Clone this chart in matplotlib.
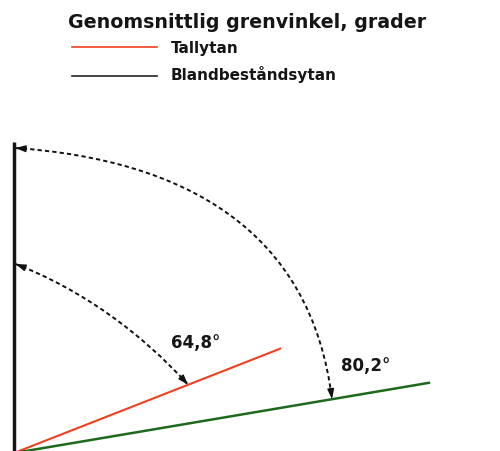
import numpy as np
import matplotlib
matplotlib.use("Agg")
import matplotlib.pyplot as plt
from matplotlib.path import Path
from matplotlib.patches import PathPatch

# Data
title = "Genomsnittlig grenvinkel, grader"
series = ["Tallytan", "Blandbeståndsytan"]
angle_values = [64.8, 80.2]            # labelled branch angles (degrees from vertical)
drawn_dirs = [21.4, 9.6]               # direction of drawn lines from horizontal (as in picture)
line_lengths = [287, 422]
line_colors = ["#f0401e", "#1d6a1d"]
legend_colors = ["#f0401e", "#222222"]
stem_height = 311

# angle arcs: radius on stem, radius on branch line, start/end tangent dirs, handle lengths
arc_r_stem = [189, 305]
arc_r_line = [187, 322.5]
arc_dir_start = [-21, -4]
arc_dir_end = [-48, -83]
arc_handle = [70, 170]

plt.rcParams['font.family'] = ['DejaVu Sans']

fig = plt.figure(figsize=(5.0, 4.52), dpi=100)
ax = fig.add_axes([0, 0, 1, 1])
ax.set_xlim(-14, 486)
ax.set_ylim(2, 454)
ax.axis('off')

# vertical stem
ax.plot([0, 0], [0, stem_height], color="#161616", lw=2.5, solid_capstyle='butt')

# branch lines
for d, L, c, lw in zip(drawn_dirs, line_lengths, line_colors, [1.5, 1.8]):
    t = np.deg2rad(d)
    ax.plot([0, L*np.cos(t)], [0, L*np.sin(t)], color=c, lw=lw, solid_capstyle='butt')

# arcs with arrowheads at both ends
tip_gap = 1.5
for d, rs, rl, ds, de, h in zip(drawn_dirs, arc_r_stem, arc_r_line, arc_dir_start, arc_dir_end, arc_handle):
    p0 = np.array([tip_gap, rs])
    t = np.deg2rad(d)
    p3 = np.array([rl*np.cos(t), rl*np.sin(t)])
    u0 = np.array([np.cos(np.deg2rad(ds)), np.sin(np.deg2rad(ds))])
    u3 = np.array([np.cos(np.deg2rad(de)), np.sin(np.deg2rad(de))])
    p1 = p0 + h*u0
    p2 = p3 - h*u3
    path = Path([p0, p1, p2, p3], [Path.MOVETO, Path.CURVE4, Path.CURVE4, Path.CURVE4])
    ax.add_patch(PathPatch(path, facecolor='none', edgecolor='#111111', lw=1.4,
                           linestyle=(0, (2.2, 1.6))))
    hs = 'head_length=0.6,head_width=0.2'
    ax.annotate('', xy=p3, xytext=p3 - 8*u3,
                arrowprops=dict(arrowstyle='-|>,' + hs, color='#111111', lw=1.0, shrinkA=0, shrinkB=0))
    ax.annotate('', xy=p0, xytext=p0 + 8*u0,
                arrowprops=dict(arrowstyle='-|>,' + hs, color='#111111', lw=1.0, shrinkA=0, shrinkB=0))

# angle labels
label_pos = [(157.5, 106), (326.5, 82.5)]
for v, (x, y) in zip(angle_values, label_pos):
    ax.text(x, y, f"{v:.1f}".replace('.', ',') + "°", fontsize=12, fontweight='bold',
            ha='left', va='baseline', color='#151515')

# title and legend
fig.text(0.495, 0.9374, title, fontsize=13.7, fontweight='bold', ha='center', va='baseline', color='#151515')
leg_line_y = [0.8945, 0.829]
leg_text_y = [0.882, 0.823]
for s, c, yl, yt in zip(series, legend_colors, leg_line_y, leg_text_y):
    fig.add_artist(plt.Line2D([0.144, 0.314], [yl, yl], color=c, lw=1.2, transform=fig.transFigure))
    fig.text(0.341, yt, s, fontsize=11, fontweight='bold', ha='left', va='baseline', color='#151515')

fig.savefig("out.png", dpi=100)
